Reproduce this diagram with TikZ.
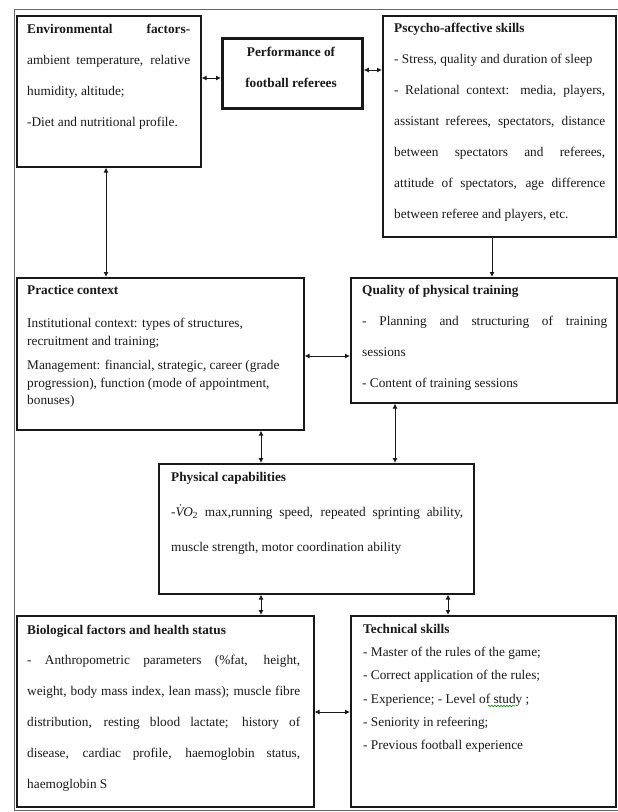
\documentclass[tikz,border=0pt]{standalone}
\usepackage{fontspec}
\setmainfont{Liberation Serif}
\usetikzlibrary{arrows.meta,decorations.pathmorphing}
\newcommand{\tbx}[3]{\parbox[t]{#1}{\setlength\baselineskip{#2}\setlength\parindent{0pt}#3}}
\newcommand{\js}[2]{\makebox[#1][s]{#2}}
\newcommand{\jl}[2]{\makebox[#1][l]{#2}}
\tikzset{
  box/.style={draw=black!90, line width=1.6pt, anchor=north west, inner sep=0pt, fill=white},
  txt/.style={anchor=base west, inner sep=0pt, font=\fontsize{13.3}{17}\selectfont, text=black!90},
  tip/.tip={Latex[length=5pt,width=5pt]},
  link/.style={line width=0.9pt, black!90, tip-tip},
  onelink/.style={line width=0.9pt, black!90, -tip},
  squiggle/.style={draw=green!55!black, line width=0.6pt, decorate, decoration={snake, amplitude=0.8pt, segment length=3pt}},
}
\begin{document}
\begin{tikzpicture}[x=1pt,y=-1pt]
\useasboundingbox (0,0) rectangle (618,812);
\fill[white] (0,0) rectangle (618,812);
\draw[black!60, line width=0.9pt] (14,9) rectangle (620,810);

% boxes
\node[box, minimum width=184pt, minimum height=151pt] (env) at (16,15) {};
\node[box, line width=2.8pt, minimum width=140pt, minimum height=70pt] (perf) at (221,37) {};
\node[box, minimum width=233pt, minimum height=221pt] (psy) at (382,15) {};
\node[box, minimum width=287pt, minimum height=152pt] (prac) at (16,277) {};
\node[box, minimum width=266pt, minimum height=125pt] (qual) at (350,277) {};
\node[box, minimum width=315pt, minimum height=130pt] (phys) at (158,463) {};
\node[box, minimum width=297pt, minimum height=191pt] (bio) at (16,615) {};
\node[box, minimum width=265pt, minimum height=191pt] (tech) at (350,615) {};

% texts
\node[txt] (envt) at (27,33) {\tbx{163pt}{31pt}{%
\js{163pt}{\bfseries Environmental factors-}\\
\js{163pt}{ambient temperature, relative}\\
\jl{163pt}{humidity, altitude;}\\
\jl{163pt}{-Diet and nutritional profile.}}};

\node[txt, anchor=base] (perft) at (291,56.5) {\tbx{140pt}{31pt}{\centering\bfseries
Performance of\\ football referees\par}};

\node[txt] (psyt) at (394,32.5) {\tbx{211pt}{31pt}{%
\jl{211pt}{\bfseries Pscycho-affective skills}\\
\jl{211pt}{- Stress, quality and duration of sleep}\\
\js{211pt}{- Relational context: media, players,}\\
\js{211pt}{assistant referees, spectators, distance}\\
\js{211pt}{between spectators and referees,}\\
\js{211pt}{attitude of spectators, age difference}\\
\jl{211pt}{between referee and players, etc.}}};

\node[txt] (pract) at (27,294.5) {\tbx{270pt}{17.5pt}{%
\jl{270pt}{\bfseries Practice context}\\[15.8pt]
\jl{270pt}{Institutional context: types of structures,}\\
\jl{270pt}{recruitment and training;}\\[6.7pt]
\jl{270pt}{Management: financial, strategic, career (grade}\\
\jl{270pt}{progression), function (mode of appointment,}\\
\jl{270pt}{bonuses)}}};

\node[txt] (qualt) at (362,294.5) {\tbx{245pt}{31pt}{%
\jl{245pt}{\bfseries Quality of physical training}\\
\js{245pt}{- Planning and structuring of training}\\
\jl{245pt}{sessions}\\
\jl{245pt}{- Content of training sessions}}};

\node[txt] (physt) at (171,481) {\tbx{292pt}{35pt}{%
\jl{292pt}{\bfseries Physical capabilities}\\
\js{292pt}{-{\itshape V̇O}\textsubscript{2} max,running speed, repeated sprinting ability,}\\
\jl{292pt}{muscle strength, motor coordination ability}}};

\node[txt] (biot) at (27,634) {\tbx{273pt}{30.8pt}{%
\jl{273pt}{\bfseries Biological factors and health status}\\
\js{273pt}{- Anthropometric parameters (\%fat, height,}\\
\js{273pt}{weight, body mass index, lean mass); muscle fibre}\\
\js{273pt}{distribution, resting blood lactate; history of}\\
\js{273pt}{disease, cardiac profile, haemoglobin status,}\\
\jl{273pt}{haemoglobin S}}};

\node[txt] (techt) at (363,633.5) {\tbx{245pt}{23.2pt}{%
\jl{245pt}{\bfseries Technical skills}\\
\jl{245pt}{- Master of the rules of the game;}\\
\jl{245pt}{- Correct application of the rules;}\\
\jl{245pt}{- Experience; - Level of study ;}\\
\jl{245pt}{- Seniority in refeering;}\\
\jl{245pt}{- Previous football experience}}};

% spell-check underline under "study"
\path[squiggle] (488,706) -- (515,706);

% connectors
\draw[link] (env.east |- 0,78) -- (perf.west |- 0,78);
\draw[link] (perf.east |- 0,70) -- (psy.west |- 0,70);
\draw[link] (env.south -| 106,0) -- (prac.north -| 106,0);
\draw[onelink] (psy.south -| 492,0) -- (qual.north -| 492,0);
\draw[link] (prac.east |- 0,356) -- (qual.west |- 0,356);
\draw[link] (prac.south -| 261,0) -- (phys.north -| 261,0);
\draw[link] (qual.south -| 395,0) -- (phys.north -| 395,0);
\draw[link] (phys.south -| 261,0) -- (bio.north -| 261,0);
\draw[link] (phys.south -| 448,0) -- (tech.north -| 448,0);
\draw[link] (bio.east |- 0,712) -- (tech.west |- 0,712);
\end{tikzpicture}
\end{document}
